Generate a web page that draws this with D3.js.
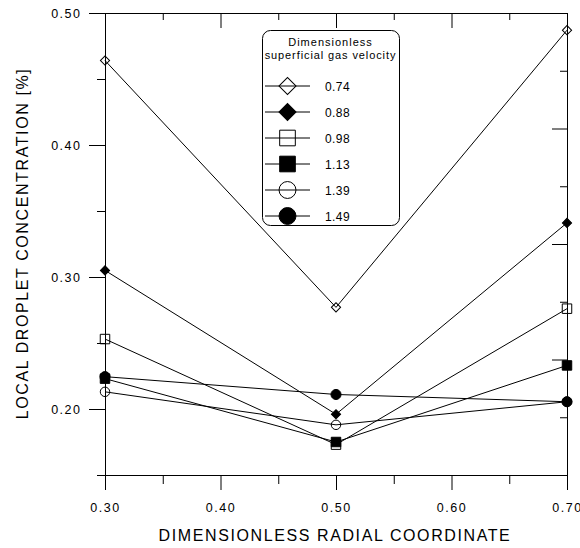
<!DOCTYPE html>
<html>
<head>
<meta charset="utf-8">
<script src="https://cdn.jsdelivr.net/npm/d3@7"></script>
<style>
    body { margin: 0; background: #fff; }
    #chart { width: 580px; height: 548px; }
    text { font-family: "Liberation Sans", Arial, sans-serif; fill: #000; }
</style>
</head>
<body>
<div id="chart"></div>
<script>
// radial positions and the legend values
const radialCoords = [0.30, 0.50, 0.70];
const gasVelocities = ['0.74', '0.88', '0.98', '1.13', '1.39', '1.49'];

// droplet concentration [%] per gas velocity, at each radial position
const conc074 = [0.464, 0.277, 0.487];
const conc088 = [0.305, 0.196, 0.341];
const conc098 = [0.253, 0.173, 0.276];
const conc113 = [0.223, 0.175, 0.233];
const conc139 = [0.213, 0.188, 0.2055];
const conc149 = [0.2245, 0.211, 0.2055];

const xTickLabels = ['0.30', '0.40', '0.50', '0.60', '0.70'];
const xMinorTicks = ['0.35', '0.45', '0.55', '0.65'];
const yTickLabels = ['0.20', '0.30', '0.40', '0.50'];
const yMinorTicks = ['0.15', '0.25', '0.35', '0.45'];

(function () {
    'use strict';

    const margin = {top: 13, right: 13, bottom: 73, left: 105};
    const width = 580 - margin.left - margin.right;
    const height = 548 - margin.top - margin.bottom;

    const series = [conc074, conc088, conc098, conc113, conc139, conc149];
    // marker look per series: open diamond, filled diamond, open square ...
    const markers = [
        {type: 'diamond', filled: false},
        {type: 'diamond', filled: true},
        {type: 'square', filled: false},
        {type: 'square', filled: true},
        {type: 'circle', filled: false},
        {type: 'circle', filled: true}
    ];

    const xScale = d3.scaleLinear().domain([0.30, 0.70]).range([0, width]);
    const yScale = d3.scaleLinear().domain([0.15, 0.50]).range([height, 0]);
    // the right frame copies the x tick spacing
    const rightScale = d3.scaleLinear().domain([0.30, 0.70]).range([height, 0]);

    const svg = d3.select('#chart').append('svg')
        .attr('width', width + margin.left + margin.right)
        .attr('height', height + margin.top + margin.bottom)
        .append('g')
        .attr('transform', 'translate(' + margin.left + ',' + margin.top + ')');

    const fmt = function (d) { return d3.format('.2f')(d); };

    function styleAxis(g, keepDomain) {
        g.selectAll('line').attr('stroke', '#000').attr('stroke-width', 1);
        g.select('.domain').attr('stroke', keepDomain ? '#000' : 'none');
        g.selectAll('text').style('font-size', '12.5px').attr('letter-spacing', '1.5px')
            .attr('fill', '#000').style('font-family', '"Liberation Sans", Arial, sans-serif');
    }

    // left axis, ticks outside
    svg.append('g').call(d3.axisLeft(yScale).tickValues(yMinorTicks.map(Number)).tickSize(8).tickSizeOuter(0).tickFormat(''))
        .call(styleAxis, false);
    svg.append('g').call(d3.axisLeft(yScale).tickValues(yTickLabels.map(Number)).tickSize(16).tickSizeOuter(0).tickPadding(7.5).tickFormat(fmt))
        .call(styleAxis, true);

    // bottom axis, ticks outside
    svg.append('g').attr('transform', 'translate(0,' + height + ')')
        .call(d3.axisBottom(xScale).tickValues(xMinorTicks.map(Number)).tickSize(9).tickSizeOuter(0).tickFormat(''))
        .call(styleAxis, false);
    svg.append('g').attr('transform', 'translate(0,' + height + ')')
        .call(d3.axisBottom(xScale).tickValues(xTickLabels.map(Number)).tickSize(15).tickSizeOuter(0).tickPadding(13).tickFormat(fmt))
        .call(styleAxis, true);

    // top axis, ticks inside, no labels
    svg.append('g')
        .call(d3.axisTop(xScale).tickValues(xMinorTicks.map(Number)).tickSize(-7).tickSizeOuter(0).tickFormat(''))
        .call(styleAxis, false);
    svg.append('g')
        .call(d3.axisTop(xScale).tickValues(xTickLabels.map(Number)).tickSize(-15).tickSizeOuter(0).tickFormat(''))
        .call(styleAxis, true);

    // right axis, ticks inside, no labels
    svg.append('g').attr('transform', 'translate(' + width + ',0)')
        .call(d3.axisRight(rightScale).tickValues(xMinorTicks.map(Number)).tickSize(-7).tickSizeOuter(0).tickFormat(''))
        .call(styleAxis, false);
    svg.append('g').attr('transform', 'translate(' + width + ',0)')
        .call(d3.axisRight(rightScale).tickValues(xTickLabels.map(Number)).tickSize(-15).tickSizeOuter(0).tickFormat(''))
        .call(styleAxis, true);

    // axis titles
    svg.append('text')
        .attr('x', 230).attr('y', height + 66)
        .attr('text-anchor', 'middle')
        .attr('letter-spacing', '1.6px')
        .style('font-size', '16px')
        .text('DIMENSIONLESS RADIAL COORDINATE');

    svg.append('text')
        .attr('transform', 'translate(' + (28 - margin.left) + ',' + (243.5 - margin.top) + ') rotate(-90)')
        .attr('text-anchor', 'middle')
        .attr('letter-spacing', '1.6px')
        .style('font-size', '16px')
        .text('LOCAL DROPLET CONCENTRATION [%]');

    function symbolPath(m, size) {
        const type = m.type === 'circle' ? d3.symbolCircle : d3.symbolSquare;
        return d3.symbol().type(type).size(size)();
    }

    const chartSizes = {diamond: 42, square: 90, circle: 70};
    const legendSizes = {diamond: 145, square: 245, circle: 225};

    const line = d3.line()
        .x(function (d, i) { return xScale(radialCoords[i]); })
        .y(function (d) { return yScale(d); });

    series.forEach(function (values, s) {
        const m = markers[s];
        svg.append('path').datum(values)
            .attr('d', line)
            .attr('fill', 'none')
            .attr('stroke', '#000')
            .attr('stroke-width', 1);

        svg.selectAll('.mark-' + s).data(values).enter().append('path')
            .attr('class', 'mark-' + s)
            .attr('d', symbolPath(m, m.filled && m.type === 'circle' ? 80 : chartSizes[m.type]))
            .attr('transform', function (d, i) {
                return 'translate(' + xScale(radialCoords[i]) + ',' + yScale(d) + ')' + (m.type === 'diamond' ? ' rotate(45)' : '');
            })
            .attr('fill', m.filled ? '#000' : 'none')
            .attr('stroke', '#000')
            .attr('stroke-width', 1);
    });

    // legend
    const legend = svg.append('g').attr('transform', 'translate(' + (262.5 - margin.left) + ',' + (30.5 - margin.top) + ')');
    legend.append('rect')
        .attr('width', 137).attr('height', 195).attr('rx', 8).attr('ry', 8)
        .attr('fill', '#fff').attr('stroke', '#000').attr('stroke-width', 1);
    legend.append('text').attr('x', 68).attr('y', 15)
        .attr('text-anchor', 'middle').attr('letter-spacing', '1px').style('font-size', '11px')
        .text('Dimensionless');
    legend.append('text').attr('x', 68).attr('y', 28.5)
        .attr('text-anchor', 'middle').attr('letter-spacing', '0.9px').style('font-size', '11px')
        .text('superficial gas velocity');

    const rows = legend.selectAll('.legend-row').data(gasVelocities).enter().append('g')
        .attr('class', 'legend-row')
        .attr('transform', function (d, i) { return 'translate(0,' + (55.5 + i * 26) + ')'; });

    rows.append('line').attr('x1', 2.5).attr('x2', 47.5).attr('y1', 0).attr('y2', 0)
        .attr('stroke', '#000').attr('stroke-width', 1);
    rows.append('path')
        .attr('d', function (d, i) { return symbolPath(markers[i], legendSizes[markers[i].type]); })
        .attr('transform', function (d, i) { return 'translate(25,0)' + (markers[i].type === 'diamond' ? ' rotate(45)' : ''); })
        .attr('fill', function (d, i) { return markers[i].filled ? '#000' : 'none'; })
        .attr('stroke', '#000').attr('stroke-width', 1);
    rows.append('text').attr('x', 62.5).attr('y', 4.5)
        .attr('letter-spacing', '0.4px').style('font-size', '12px')
        .text(function (d) { return d; });
}());
</script>
</body>
</html>
